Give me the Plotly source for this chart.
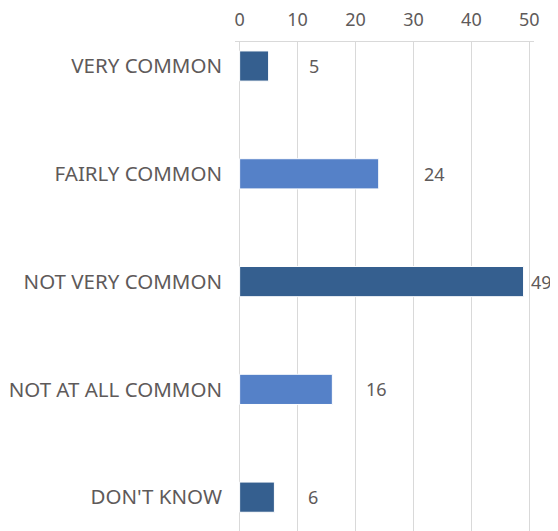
import plotly.graph_objects as go

categories = ["VERY COMMON", "FAIRLY COMMON", "NOT VERY COMMON", "NOT AT ALL COMMON", "DON'T KNOW"]
values = [5, 24, 49, 16, 6]
tick_values = [0, 10, 20, 30, 40, 50]

bar_colors = ["#355F8F", "#5581C8", "#355F8F", "#5581C8", "#355F8F"]
label_shift_px = [38, 43, 5, 32, 32]

FONT = "Noto Sans"
TXT = "#5E5A5A"

fig = go.Figure()
fig.add_trace(go.Bar(
    y=categories, x=values, orientation="h",
    marker=dict(color=bar_colors, line=dict(color="white", width=1)),
    width=0.28, hoverinfo="skip",
))

for cat, v, s in zip(categories, values, label_shift_px):
    fig.add_annotation(x=v, y=cat, text=str(v), showarrow=False,
                       xanchor="left", xshift=s,
                       font=dict(family=FONT, size=18, color=TXT))

# the page body has a default 8px margin; margins compensate for that offset
fig.update_layout(
    width=550, height=531,
    margin=dict(l=227, r=24, t=34, b=8, autoexpand=False),
    plot_bgcolor="white", paper_bgcolor="white",
    showlegend=False,
    xaxis=dict(side="top", range=[-0.8, 50.8], tickvals=tick_values,
               showgrid=True, gridcolor="#D9D9D9", gridwidth=1,
               zeroline=False, showline=True, linecolor="#D9D9D9",
               mirror=False, ticks="", ticklabelstandoff=8, automargin=False,
               tickfont=dict(family=FONT, size=18, color=TXT)),
    yaxis=dict(categoryorder="array", categoryarray=categories,
               range=[4.314, -0.223], showgrid=False, zeroline=False,
               showline=False, ticks="", ticklabelstandoff=12, automargin=False,
               tickfont=dict(family=FONT, size=20.5, color=TXT)),
)

fig.write_html("out.html")
